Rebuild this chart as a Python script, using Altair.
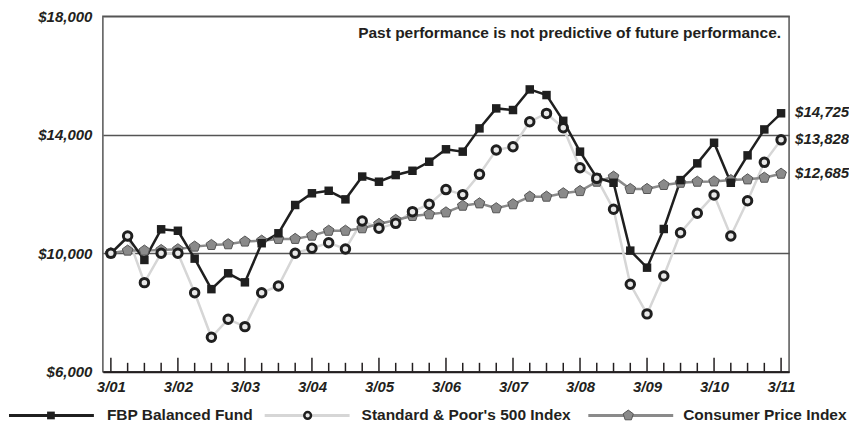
import altair as alt
import pandas as pd

# ---- data ----
quarter_index = list(range(41))  # 3/01 ... 3/11, quarterly
year_labels = ["3/01", "3/02", "3/03", "3/04", "3/05", "3/06", "3/07", "3/08", "3/09", "3/10", "3/11"]

series_names = ["FBP Balanced Fund", "Standard & Poor's 500 Index", "Consumer Price Index"]

fbp = [10000, 10550, 9775, 10810, 10760, 9820, 8790, 9325, 9020, 10340,
       10675, 11630, 12025, 12110, 11820, 12590, 12415, 12640, 12785, 13090,
       13510, 13430, 14215, 14890, 14835, 15530, 15340, 14470, 13430, 12550,
       12380, 10090, 9515, 10820, 12470, 13035, 13730, 12380, 13305, 14180,
       14725]
sp500 = [10000, 10585, 9010, 10000, 10000, 8670, 7165, 7775, 7525, 8670,
         8895, 10000, 10170, 10355, 10145, 11090, 10845, 11010, 11405, 11655,
         12150, 11980, 12665, 13485, 13595, 14440, 14720, 14235, 12885, 12530,
         11485, 8955, 7955, 9235, 10695, 11350, 11965, 10585, 11775, 13070,
         13828]
cpi = [10000, 10090, 10090, 10110, 10135, 10225, 10280, 10305, 10395, 10425,
       10485, 10485, 10595, 10760, 10760, 10845, 10990, 11125, 11260, 11315,
       11380, 11605, 11685, 11520, 11655, 11910, 11910, 12025, 12100, 12415,
       12585, 12170, 12170, 12305, 12380, 12415, 12425, 12470, 12495, 12550,
       12685]

end_labels = ["$14,725", "$13,828", "$12,685"]
y_ticks = [6000, 10000, 14000, 18000]
note_text = "Past performance is not predictive of future performance."

# ---- build tables ----
rows = []
for name, vals in zip(series_names, [fbp, sp500, cpi]):
    for q, v in zip(quarter_index, vals):
        rows.append({"q": q, "v": v, "s": name})
df = pd.DataFrame(rows)

ends = pd.DataFrame({
    "q": [quarter_index[-1]] * 3,
    "v": [fbp[-1], sp500[-1], cpi[-1]],
    "t": end_labels,
})

ticks_df = pd.DataFrame({"q": quarter_index})

W, H = 687, 356
FONT = "Liberation Sans, Arial, Helvetica, sans-serif"
INK = "#231f20"
PENTAGON = "M0,-1L0.951,-0.309L0.588,0.809L-0.588,0.809L-0.951,-0.309Z"

label_expr = "[" + ",".join("'" + l + "'" for l in year_labels) + "][round(datum.value / 4)]"

x_enc = alt.X(
    "q:Q",
    scale=alt.Scale(domain=[-0.477, 40.477], nice=False, zero=False),
    axis=alt.Axis(
        values=list(range(0, 41, 4)), labelExpr=label_expr, ticks=False, grid=False,
        domainColor=INK, domainWidth=2, labelFont=FONT, labelFontSize=15,
        labelFontStyle="italic", labelFontWeight="bold", labelColor=INK,
        labelPadding=8, labelFlush=False, title=None,
    ),
)
y_enc = alt.Y(
    "v:Q",
    scale=alt.Scale(domain=[6000, 18000], nice=False, zero=False),
    axis=alt.Axis(
        values=y_ticks, format="$,.0f", ticks=False, domain=False, grid=True,
        gridColor="#555555", gridWidth=1.5, labelFont=FONT, labelFontSize=15,
        labelFontStyle="italic", labelFontWeight="bold", labelColor=INK,
        labelPadding=11, labelFlush=False, title=None,
    ),
)

base = alt.Chart(df).encode(x=x_enc, y=y_enc)

def sel(name):
    return base.transform_filter(alt.datum.s == name)

line_sp = sel(series_names[1]).mark_line(color="#d6d6d6", strokeWidth=2.5)
line_cpi = sel(series_names[2]).mark_line(color="#8a8a8a", strokeWidth=2.5)
line_fbp = sel(series_names[0]).mark_line(color="#1f1f1f", strokeWidth=2.5)

pts_cpi = sel(series_names[2]).mark_point(
    shape=PENTAGON, filled=True, fill="#8a8a8a", stroke="#555555",
    strokeWidth=1, size=125, opacity=1)
pts_fbp = sel(series_names[0]).mark_square(color="#1f1f1f", size=72, opacity=1)
pts_sp = sel(series_names[1]).mark_point(
    shape="circle", filled=True, fill="#e8e8e8", stroke="#1f1f1f",
    strokeWidth=3, size=72, opacity=1)

# inward ticks on the time axis
major = alt.Chart(ticks_df).transform_filter("datum.q % 4 == 0").mark_rule(
    color=INK, strokeWidth=1.5).encode(x="q:Q", y=alt.value(H), y2=alt.value(H - 14))
minor = alt.Chart(ticks_df).transform_filter("datum.q % 4 != 0").mark_rule(
    color=INK, strokeWidth=1.5).encode(x="q:Q", y=alt.value(H), y2=alt.value(H - 9))

end_text = alt.Chart(ends).mark_text(
    align="left", baseline="middle", dx=14, dy=-1, font=FONT, fontSize=15,
    fontStyle="italic", fontWeight="bold", color=INK,
).encode(x="q:Q", y="v:Q", text="t:N")

note = alt.Chart(pd.DataFrame({"t": [note_text]})).mark_text(
    align="right", baseline="middle", font=FONT, fontSize=15.5, fontWeight="bold", color=INK,
).encode(x=alt.value(679), y=alt.value(17), text="t:N")

# manual legend below the chart
LY = 399.7
def leg_text(name, x):
    return alt.Chart(pd.DataFrame({"t": [name]})).mark_text(
        align="left", baseline="middle", font=FONT, fontSize=15.5, fontWeight="bold", color=INK,
    ).encode(x=alt.value(x), y=alt.value(LY), text="t:N")

def leg_rule(x0, x1, color):
    return alt.Chart(pd.DataFrame({"a": [0]})).mark_rule(color=color, strokeWidth=3).encode(
        x=alt.value(x0), x2=alt.value(x1), y=alt.value(LY))

leg = [
    leg_rule(-94, -9, "#1f1f1f"),
    alt.Chart(pd.DataFrame({"a": [0]})).mark_square(color="#1f1f1f", size=60, opacity=1).encode(
        x=alt.value(-52), y=alt.value(LY)),
    leg_text(series_names[0], 4),
    leg_rule(162, 247, "#d6d6d6"),
    alt.Chart(pd.DataFrame({"a": [0]})).mark_point(
        shape="circle", filled=True, fill="#e8e8e8", stroke="#1f1f1f", strokeWidth=2.5,
        size=45, opacity=1).encode(x=alt.value(205), y=alt.value(LY)),
    leg_text(series_names[1], 259),
    leg_rule(486, 571, "#8a8a8a"),
    alt.Chart(pd.DataFrame({"a": [0]})).mark_point(
        shape=PENTAGON, filled=True, fill="#8a8a8a", stroke="#555555", strokeWidth=1,
        size=115, opacity=1).encode(x=alt.value(526), y=alt.value(LY)),
    leg_text(series_names[2], 581),
]

chart = alt.layer(
    line_sp, line_cpi, line_fbp, pts_cpi, pts_fbp, pts_sp,
    major, minor, end_text, note, *leg,
).properties(
    width=W, height=H,
    autosize=alt.AutoSizeParams(type="none"),
    padding={"left": 95, "top": 8, "right": 60, "bottom": 54},
    background="white",
).configure_view(stroke="#555555", strokeWidth=1.5)

chart.save("out.html", embed_options={"renderer": "svg", "actions": False})
